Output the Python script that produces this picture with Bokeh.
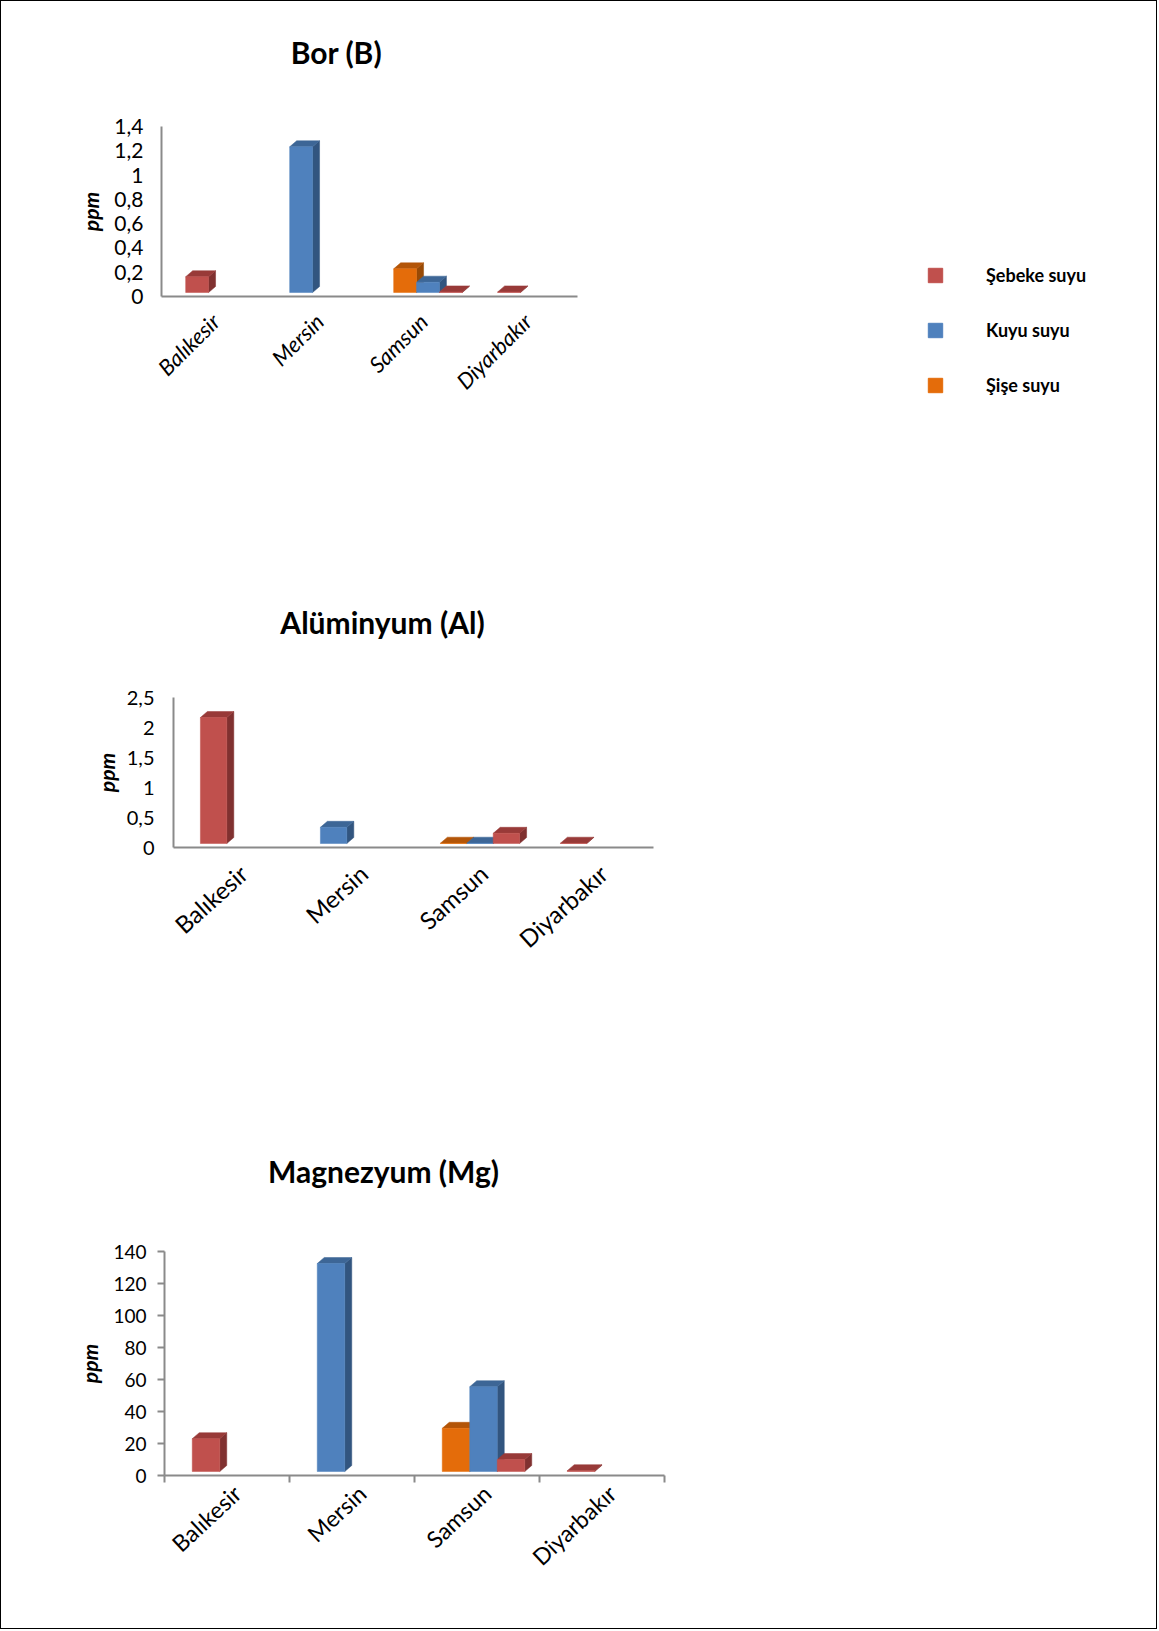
import math
from bokeh.plotting import figure
from bokeh.models import (FixedTicker, Legend, LegendItem, ColumnDataSource,
                          Range1d, Label)
from bokeh.layouts import column, row
from bokeh.embed import file_html
from bokeh.resources import INLINE

# ---------------- data ----------------
cities = ["Balıkesir", "Mersin", "Samsun", "Diyarbakır"]
series_labels = ["Şebeke suyu", "Kuyu suyu", "Şişe suyu"]

bor_title = "Bor (B)"
bor_sebeke = [0.13, None, 0.005, 0.005]
bor_kuyu = [None, 1.2, 0.085, None]
bor_sise = [None, None, 0.195, None]
bor_ticks = [0, 0.2, 0.4, 0.6, 0.8, 1.0, 1.2, 1.4]
bor_tick_labels = ["0", "0,2", "0,4", "0,6", "0,8", "1", "1,2", "1,4"]

al_title = "Alüminyum (Al)"
al_sebeke = [2.1, None, 0.17, 0.005]
al_kuyu = [None, 0.27, 0.005, None]
al_sise = [None, None, 0.005, None]
al_ticks = [0, 0.5, 1.0, 1.5, 2.0, 2.5]
al_tick_labels = ["0", "0,5", "1", "1,5", "2", "2,5"]

mg_title = "Magnezyum (Mg)"
mg_sebeke = [20.5, None, 7.5, 0.5]
mg_kuyu = [None, 130, 53, None]
mg_sise = [None, None, 27, None]
mg_ticks = [0, 20, 40, 60, 80, 100, 120, 140]
mg_tick_labels = ["0", "20", "40", "60", "80", "100", "120", "140"]

# ---------------- styles ----------------
FONT = "Lato"
FRONT = {"sebeke": "#C0504D", "kuyu": "#4F81BD", "sise": "#E46C0A"}
TOP = {"sebeke": "#983A38", "kuyu": "#3D6696", "sise": "#B35508"}
SIDE = {"sebeke": "#803130", "kuyu": "#32557F", "sise": "#984A06"}
AXIS = "#8A8A8A"
PAGE_W = 1155


def blank(width, height):
    p = figure(width=width, height=height, x_range=Range1d(0, width),
               y_range=Range1d(0, height), output_backend="svg",
               toolbar_location=None, x_axis_location=None,
               y_axis_location=None, min_border=0)
    p.xgrid.visible = False
    p.ygrid.visible = False
    p.outline_line_color = None
    p.title.visible = False
    return p


def make_title(text, height, cx, cy_from_top):
    t = blank(PAGE_W, height)
    t.add_layout(Label(x=cx, y=height - cy_from_top, text=text,
                       text_align="center", text_baseline="middle",
                       text_font=FONT, text_font_size="30px",
                       text_font_style="bold", text_color="black"))
    return t


def make_chart(sebeke, kuyu, sise, ticks, tick_labels, width, fw, fh,
               mbl, mbt, mbb, tick_font, ytick_standoff, ppm_standoff,
               label_angle, italic, label_shift_px, xlabel_standoff,
               xlabel_font, boundary_ticks):
    n = len(cities)
    ymax = ticks[-1]
    p = figure(frame_width=fw, frame_height=fh,
               x_range=Range1d(0, n), y_range=Range1d(0, ymax),
               output_backend="svg", toolbar_location=None,
               min_border_left=mbl, min_border_top=mbt,
               min_border_right=width - mbl - fw, min_border_bottom=mbb)
    p.outline_line_color = None
    p.xgrid.visible = False
    p.ygrid.visible = False
    p.background_fill_color = "white"
    p.border_fill_color = "white"
    p.title.visible = False

    ppx = fw / n
    ppy = fh / ymax
    w = 0.22
    shift = 6.5 / ppx
    dx = 7.0 / ppx
    dy = 6.0 / ppy
    floor = 4.0 / ppy

    front = dict(left=[], right=[], bottom=[], top=[], color=[])
    tops = dict(xs=[], ys=[], color=[])
    sides = dict(xs=[], ys=[], color=[])
    order = [("sise", sise), ("kuyu", kuyu), ("sebeke", sebeke)]
    for i in range(n):
        k = 0
        for key, vals in order:
            v = vals[i]
            if v is None:
                continue
            x0 = i + 0.5 - 1.5 * w + k * w + shift
            x1 = x0 + w
            b = floor
            t = floor + v
            front["left"].append(x0)
            front["right"].append(x1)
            front["bottom"].append(b)
            front["top"].append(t)
            front["color"].append(FRONT[key])
            tops["xs"].append([x0, x1, x1 + dx, x0 + dx])
            tops["ys"].append([t, t, t + dy, t + dy])
            tops["color"].append(TOP[key])
            sides["xs"].append([x1, x1 + dx, x1 + dx, x1])
            sides["ys"].append([b, b + dy, t + dy, t])
            sides["color"].append(SIDE[key])
            k += 1

    p.patches("xs", "ys", source=ColumnDataSource(sides), fill_color="color",
              line_color="color", line_width=0.5)
    p.patches("xs", "ys", source=ColumnDataSource(tops), fill_color="color",
              line_color="color", line_width=0.5)
    p.quad(left="left", right="right", bottom="bottom", top="top",
           source=ColumnDataSource(front), fill_color="color",
           line_color="color", line_width=0.5)

    # y axis
    ya = p.yaxis[0]
    ya.ticker = FixedTicker(ticks=ticks)
    ya.major_label_overrides = {t: l for t, l in zip(ticks, tick_labels)}
    ya.axis_line_color = AXIS
    ya.axis_line_width = 2
    ya.minor_tick_line_color = None
    if boundary_ticks:
        ya.major_tick_line_color = AXIS
        ya.major_tick_line_width = 2
        ya.major_tick_out = 7
        ya.major_tick_in = 0
    else:
        ya.major_tick_line_color = None
        ya.major_tick_out = 0
        ya.major_tick_in = 0
    ya.major_label_standoff = ytick_standoff
    ya.major_label_text_font = FONT
    ya.major_label_text_font_size = tick_font
    ya.major_label_text_color = "black"
    ya.axis_label = "ppm"
    ya.axis_label_text_font = FONT
    ya.axis_label_text_font_size = "21px"
    ya.axis_label_text_font_style = "bold italic"
    ya.axis_label_text_color = "black"
    ya.axis_label_standoff = ppm_standoff

    # x axis
    xa = p.xaxis[0]
    lab_ticks = [round(i + 0.5 + label_shift_px / ppx, 4) for i in range(n)]
    if boundary_ticks:
        xa.ticker = FixedTicker(ticks=lab_ticks, minor_ticks=list(range(n + 1)))
        xa.minor_tick_line_color = AXIS
        xa.minor_tick_line_width = 2
        xa.minor_tick_out = 7
        xa.minor_tick_in = 0
    else:
        xa.ticker = FixedTicker(ticks=lab_ticks)
        xa.minor_tick_line_color = None
        xa.minor_tick_out = 0
        xa.minor_tick_in = 0
    xa.major_tick_line_color = None
    xa.major_tick_out = 0
    xa.major_tick_in = 0
    xa.major_label_overrides = {t: c for t, c in zip(lab_ticks, cities)}
    xa.major_label_orientation = label_angle
    xa.major_label_standoff = xlabel_standoff
    xa.major_label_text_font = FONT
    xa.major_label_text_font_size = xlabel_font
    xa.major_label_text_font_style = "italic" if italic else "normal"
    xa.major_label_text_color = "black"
    xa.axis_line_color = AXIS
    xa.axis_line_width = 2
    return p


# ---------------- chart 1 + legend ----------------
F1_W = 859
t1 = make_title(bor_title, 99, 335, 50)
f1 = make_chart(bor_sebeke, bor_kuyu, bor_sise, bor_ticks, bor_tick_labels,
                width=F1_W, fw=416, fh=170, mbl=160, mbt=26, mbb=263,
                tick_font="21px", ytick_standoff=18, ppm_standoff=8,
                label_angle=math.pi / 4, italic=True, label_shift_px=2,
                xlabel_standoff=21, xlabel_font="22px", boundary_ticks=False)

fleg = blank(PAGE_W - F1_W, 459)
legend_keys = ["sebeke", "kuyu", "sise"]
items = []
for lab, key in zip(series_labels, legend_keys):
    # swatch renderer kept outside the visible range; only its legend glyph shows
    r = fleg.quad(left=[-20], right=[-10], bottom=[-20], top=[-10],
                  fill_color=FRONT[key], line_color=FRONT[key])
    items.append(LegendItem(label=lab, renderers=[r]))
leg = Legend(items=items, location=(66, 163), glyph_width=18, glyph_height=18,
             label_standoff=42, spacing=33, label_height=20, padding=0, margin=0,
             label_text_font=FONT, label_text_font_style="bold",
             label_text_font_size="18px", label_text_color="black",
             border_line_color=None, background_fill_alpha=0)
fleg.add_layout(leg)

# ---------------- chart 2 ----------------
t2 = make_title(al_title, 100, 381, 62)
f2 = make_chart(al_sebeke, al_kuyu, al_sise, al_ticks, al_tick_labels,
                width=PAGE_W, fw=480, fh=150, mbl=172, mbt=38, mbb=232,
                tick_font="20px", ytick_standoff=19, ppm_standoff=5,
                label_angle=math.radians(42), italic=False, label_shift_px=10,
                xlabel_standoff=22, xlabel_font="24px", boundary_ticks=False)

# ---------------- chart 3 ----------------
t3 = make_title(mg_title, 120, 382, 91)
f3 = make_chart(mg_sebeke, mg_kuyu, mg_sise, mg_ticks, mg_tick_labels,
                width=PAGE_W, fw=500, fh=224, mbl=163, mbt=52, mbb=153,
                tick_font="19px", ytick_standoff=11, ppm_standoff=8,
                label_angle=math.radians(43), italic=False, label_shift_px=10,
                xlabel_standoff=7, xlabel_font="23px", boundary_ticks=True)

layout = column(row(t1), row(column(f1), column(fleg)), row(t2), row(f2),
                row(t3), row(f3),
                styles={"border": "1px solid #000000"})

open("out.html", "w").write(file_html(layout, INLINE))
